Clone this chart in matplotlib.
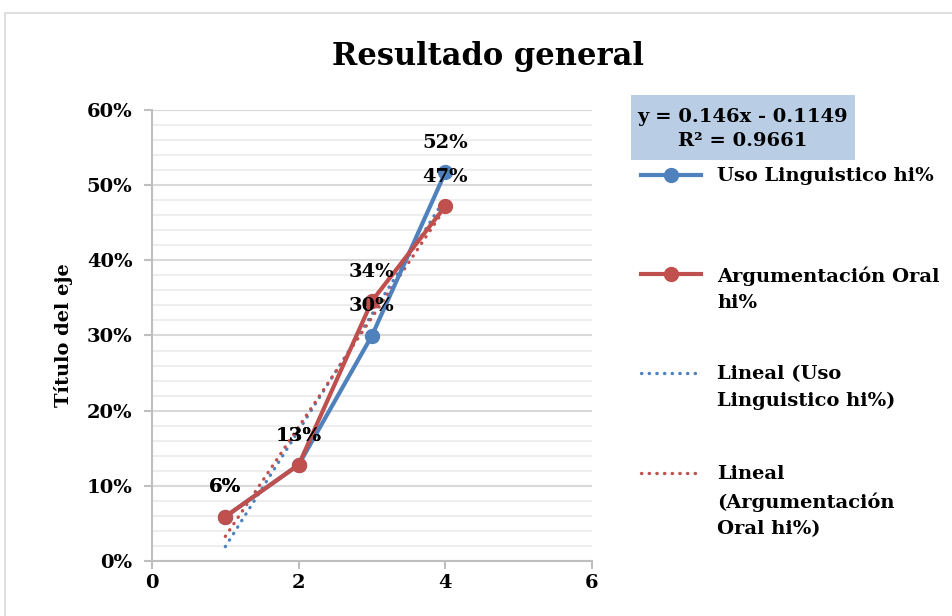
import numpy as np
import matplotlib
matplotlib.use('Agg')
import matplotlib.pyplot as plt
from matplotlib.lines import Line2D
from matplotlib.patches import Rectangle
from matplotlib.ticker import FuncFormatter, MultipleLocator

x = [1, 2, 3, 4]
uso = [0.059, 0.128, 0.300, 0.517]
arg = [0.059, 0.128, 0.346, 0.472]
uso_labels = ['6%', '13%', '30%', '52%']
arg_labels = ['6%', '13%', '34%', '47%']
names = ['Uso Linguistico hi%', 'Argumentación Oral\nhi%',
         'Lineal (Uso\nLinguistico hi%)', 'Lineal\n(Argumentación\nOral hi%)']
eq_text = 'y = 0.146x - 0.1149\nR² = 0.9661'

blue = '#4F81BD'
red = '#C0504D'
plt.rcParams['font.family'] = ['DejaVu Serif']
plt.rcParams['font.weight'] = 'bold'
fs = 14

fig = plt.figure(figsize=(9.53, 6.16), dpi=100)
fig.add_artist(Rectangle((5/953, -0.1), 1.2, 1.1 - 13/616, transform=fig.transFigure,
                         fill=False, edgecolor='#D9D9D9', lw=1.2))
ax = fig.add_axes([152/953, 1-561/616, 440/953, 451/616])

ax.set_xlim(0, 6)
ax.set_ylim(0, 0.6)
ax.xaxis.set_major_locator(MultipleLocator(2))
ax.yaxis.set_major_locator(MultipleLocator(0.1))
ax.yaxis.set_minor_locator(MultipleLocator(0.02))
ax.yaxis.set_major_formatter(FuncFormatter(lambda v, p: '%d%%' % round(v*100)))
ax.grid(True, which='minor', axis='y', color='#EEEEEE', lw=1.5)
ax.grid(True, which='major', axis='y', color='#D9D9D9', lw=1.5)
ax.set_axisbelow(True)
for s in ['top', 'right']:
    ax.spines[s].set_visible(False)
for s in ['left', 'bottom']:
    ax.spines[s].set_color('#BFBFBF')
    ax.spines[s].set_linewidth(1.5)
ax.tick_params(axis='both', which='major', color='#BFBFBF', width=1.5, length=6, labelsize=fs)
ax.tick_params(axis='y', which='major', pad=8)
ax.tick_params(axis='y', which='minor', length=0)
for t in ax.get_xticklabels() + ax.get_yticklabels():
    t.set_fontweight('bold')

ax.set_ylabel('Título del eje', fontsize=fs, fontweight='bold', labelpad=10)
fig.suptitle('Resultado general', x=488/953, y=1-57/616, va='center', fontsize=22, fontweight='bold')

xs = np.array(x, dtype=float)
for ys, c in [(uso, blue), (arg, red)]:
    k, b = np.polyfit(xs, ys, 1)
    ax.plot([xs[0], xs[-1]], [k*xs[0]+b, k*xs[-1]+b], color=c, lw=2.4,
            linestyle=(0, (0.1, 2.2)), dash_capstyle='round', zorder=3)

ax.plot(x, uso, color=blue, lw=3, marker='o', ms=10, zorder=4)
ax.plot(x, arg, color=red, lw=3, marker='o', ms=10, zorder=5)

for xi, yi, lb in zip(x, uso, uso_labels):
    ax.annotate(lb, (xi, yi), xytext=(0, 21), textcoords='offset points',
                ha='center', va='center', fontsize=fs, fontweight='bold', zorder=6)
for xi, yi, lb in zip(x, arg, arg_labels):
    ax.annotate(lb, (xi, yi), xytext=(0, 21), textcoords='offset points',
                ha='center', va='center', fontsize=fs, fontweight='bold', zorder=6)

# equation box
fig.add_artist(Rectangle((631/953, 1-160/616), 224/953, 65/616, transform=fig.transFigure,
                         facecolor='#B9CDE5', edgecolor='none'))
fig.text(743/953, 1-129/616, eq_text, ha='center', va='center', fontsize=fs,
         fontweight='bold', linespacing=1.5)

# legend
handles = [dict(color=blue, ls='-', marker='o'), dict(color=red, ls='-', marker='o'),
           dict(color=blue, ls=(0, (0.1, 2.2)), marker=None),
           dict(color=red, ls=(0, (0.1, 2.2)), marker=None)]
ys_leg = [175, 274, 373, 473]
for h, yl, nm in zip(handles, ys_leg, names):
    yf = 1 - yl/616
    if h['marker']:
        fig.add_artist(Line2D([641/953, 701/953], [yf, yf], transform=fig.transFigure,
                              color=h['color'], lw=3))
        fig.add_artist(Line2D([671/953], [yf], transform=fig.transFigure, color=h['color'],
                              marker='o', ms=10))
    else:
        fig.add_artist(Line2D([641/953, 701/953], [yf, yf], transform=fig.transFigure,
                              color=h['color'], lw=2.4, ls=h['ls'], dash_capstyle='round'))
    fig.text(717/953, 1 - (yl - 8)/616, nm, ha='left', va='top', fontsize=fs,
             fontweight='bold', linespacing=1.6)

fig.savefig('out.png', dpi=100)
